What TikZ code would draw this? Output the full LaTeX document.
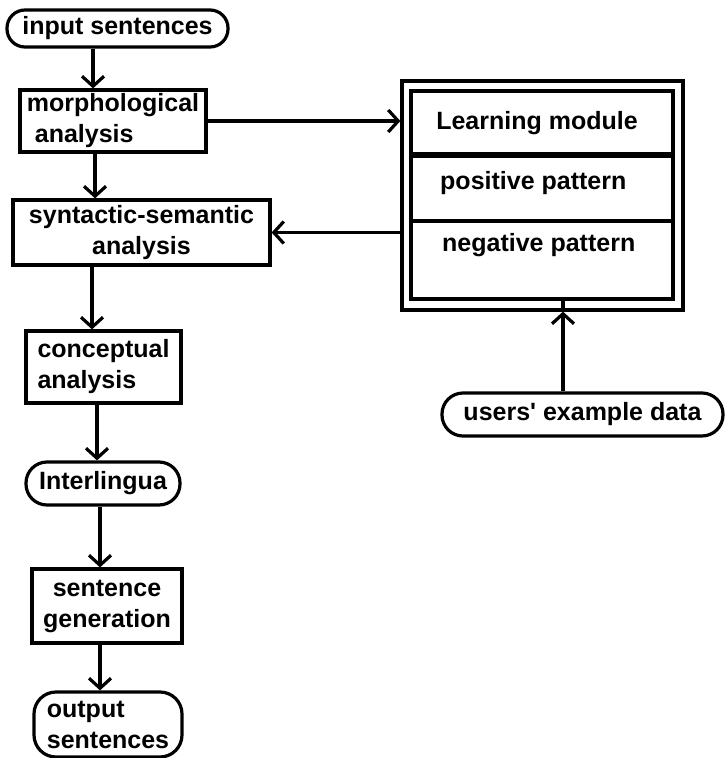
\documentclass[tikz,border=0pt]{standalone}
\usepackage{fontspec}
\setmainfont{Liberation Sans}
\usetikzlibrary{arrows.meta}
\begin{document}
\begin{tikzpicture}[x=1pt,y=-1pt,
  every node/.style={font=\fontsize{25}{31}\selectfont\bfseries, inner sep=0pt},
  box/.style={draw, line width=3.2pt},
  pill/.style={draw, line width=3.2pt, rounded corners=#1},
  lbl/.style={anchor=west},
  arr/.style={line width=3.2pt, -{Straight Barb[length=10pt,width=22pt,line width=3.2pt]}},
  ln/.style={line width=3.2pt}]
\useasboundingbox (0,0) rectangle (725,758);
% left column
\node[pill=18pt, minimum width=221pt, minimum height=37pt] (in) at (117.5,28.5) {input sentences};
\node[box, minimum width=186pt, minimum height=62pt, align=left] (morph) at (113,121) {morphological\\\hspace{8pt}analysis};
\node[box, minimum width=257pt, minimum height=65pt, align=center] (syn) at (141.5,232.5) {syntactic-semantic\\analysis};
\node[box, minimum width=155pt, minimum height=72pt, align=left] (conc) at (103.5,367) {conceptual\\analysis};
\node[pill=21pt, minimum width=154pt, minimum height=43pt] (inter) at (103,483.5) {Interlingua};
\node[box, minimum width=150pt, minimum height=74pt, align=center] (gen) at (107,606) {sentence\\generation};
\node[pill=22pt, minimum width=148pt, minimum height=65pt, align=left] (out) at (108,724.5) {output\\sentences};
% learning module
\node[box, minimum width=281pt, minimum height=229pt] (lm) at (542.5,195.5) {};
\node[box, minimum width=262pt, minimum height=208pt] (lmin) at (542,195) {};
\draw[line width=6pt] (lmin.west |- 0,155) -- (lmin.east |- 0,155);
\draw[ln] (lmin.west |- 0,221) -- (lmin.east |- 0,221);
\node (lmt) at (537,123) {Learning module};
\node[lbl] (pos) at (440,183) {positive pattern};
\node[lbl] (neg) at (442,245) {negative pattern};
\node[pill=21pt, minimum width=281pt, minimum height=43pt] (ued) at (582.5,414.5) {users\textquotesingle{} example data};
% connectors
\draw[arr] (in.south -| 93,0) -- (morph.north -| 93,0);
\draw[arr] (morph.south -| 95,0) -- (syn.north -| 95,0);
\draw[arr] (syn.south -| 92,0) -- (conc.north -| 92,0);
\draw[arr] (conc.south -| 97,0) -- (inter.north -| 97,0);
\draw[arr] (inter.south -| 100,0) -- (gen.north -| 100,0);
\draw[arr] (gen.south -| 100,0) -- (out.north -| 100,0);
\draw[arr] (morph.east) -- (morph.east -| lm.west);
\draw[arr] (lm.west |- syn.east) -- (syn.east);
\draw[arr] (ued.north -| 563,0) -- (lm.south -| 563,0);
\draw[ln] (lm.south -| 563,0) -- (lmin.south -| 563,0);
\end{tikzpicture}
\end{document}
